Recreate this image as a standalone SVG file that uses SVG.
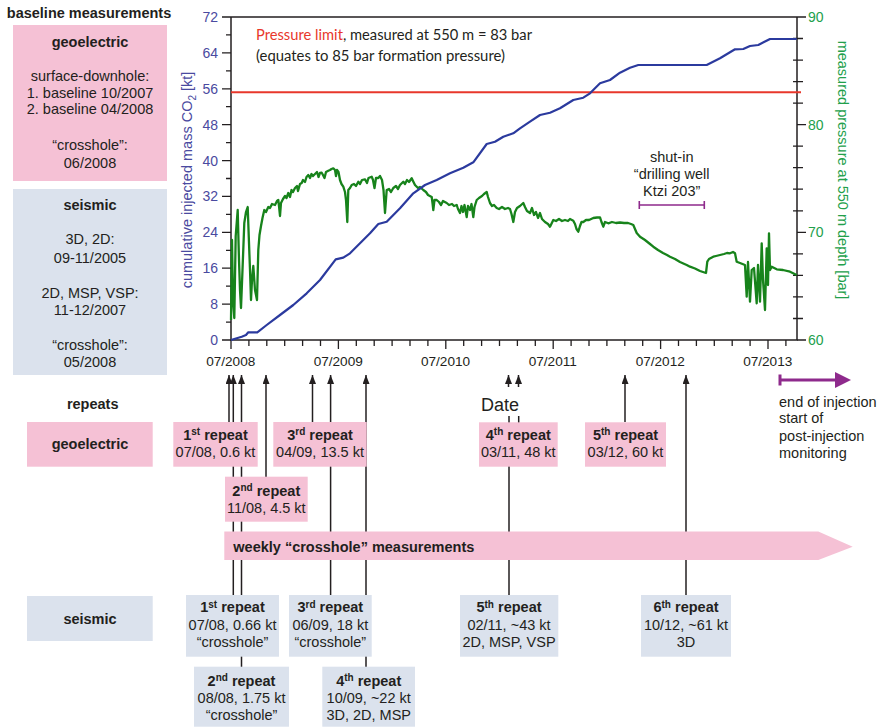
<svg xmlns="http://www.w3.org/2000/svg" width="879" height="727" viewBox="0 0 879 727">
<defs>
<style>
text{font-family:"Liberation Sans",Arial,sans-serif;fill:#231f20;}
.t{font-size:14.5px;}
.b{font-weight:bold;}
.c{text-anchor:middle;}
.pk{fill:#f5c1d5;}
.bl{fill:#dbe2ed;}
.ax{stroke:#231f20;stroke-width:1.5;fill:none;}
.tk{stroke:#231f20;stroke-width:1.3;}
.conn{stroke:#231f20;stroke-width:1.5;fill:none;}
.lt{font-size:14px;fill:#4a4aa0;text-anchor:end;}
.rt{font-size:14px;fill:#22a04b;}
.xt{font-size:13.6px;text-anchor:middle;}
.sup{font-size:10px;}
</style>
<marker id="ah" markerUnits="userSpaceOnUse" markerWidth="10" markerHeight="8" refX="9" refY="3.5" orient="auto">
<path d="M0,0 L9,3.5 L0,7 z" fill="#231f20"/>
</marker>
</defs>
<rect width="879" height="727" fill="#ffffff"/>

<!-- baseline panel -->
<text class="t b c" x="89" y="18">baseline measurements</text>
<g id="base-geoelectric">
<rect class="pk" x="13" y="25" width="154" height="156"/>
<text class="t b c" x="90" y="46.5">geoelectric</text>
<text class="t c" x="90" y="81">surface-downhole:</text>
<text class="t c" x="90" y="97.5">1. baseline 10/2007</text>
<text class="t c" x="90" y="114">2. baseline 04/2008</text>
<text class="t c" x="90" y="150">“crosshole”:</text>
<text class="t c" x="90" y="167.5">06/2008</text>
</g>
<g id="base-seismic">
<rect class="bl" x="13" y="189" width="154" height="186"/>
<text class="t b c" x="90" y="210">seismic</text>
<text class="t c" x="90" y="244">3D, 2D:</text>
<text class="t c" x="90" y="262.5">09-11/2005</text>
<text class="t c" x="90" y="298">2D, MSP, VSP:</text>
<text class="t c" x="90" y="315">11-12/2007</text>
<text class="t c" x="90" y="350">“crosshole”:</text>
<text class="t c" x="90" y="367">05/2008</text>
</g>

<!-- chart -->
<g id="chart">
<path class="ax" d="M231,17 H797 M231,17 V340 H797 V17"/>
<g class="tk">
<path d="M222,340H231M222,304.1H231M222,268.2H231M222,232.3H231M222,196.4H231M222,160.6H231M222,124.7H231M222,88.8H231M222,52.9H231M222,17H231"/>
<path d="M226,322.1H231M226,286.2H231M226,250.3H231M226,214.4H231M226,178.5H231M226,142.6H231M226,106.7H231M226,70.8H231M226,34.9H231"/>
<path d="M797,17H806M797,124.7H806M797,232.3H806M797,340H806"/>
<path d="M793,38.5H803M793,60.1H803M793,81.6H803M793,103.1H803M793,146.2H803M793,167.7H803M793,189.2H803M793,210.8H803M793,253.8H803M793,275.4H803M793,296.9H803M793,318.5H803"/>
<path d="M231,340V349M338.4,340V349M445.8,340V349M553.2,340V349M660.6,340V349M768,340V349"/>
<path d="M248.9,340V346M266.8,340V346M284.7,340V346M302.6,340V346M320.5,340V346M356.3,340V346M374.2,340V346M392.1,340V346M410,340V346M427.9,340V346M463.7,340V346M481.6,340V346M499.5,340V346M517.4,340V346M535.3,340V346M571.1,340V346M589,340V346M606.9,340V346M624.8,340V346M642.7,340V346M678.5,340V346M696.4,340V346M714.3,340V346M732.2,340V346M750.1,340V346M785.9,340V346"/>
</g>
<text class="lt" x="218" y="345">0</text>
<text class="lt" x="218" y="309">8</text>
<text class="lt" x="218" y="273">16</text>
<text class="lt" x="218" y="237">24</text>
<text class="lt" x="218" y="201">32</text>
<text class="lt" x="218" y="165.5">40</text>
<text class="lt" x="218" y="129.5">48</text>
<text class="lt" x="218" y="93.5">56</text>
<text class="lt" x="218" y="58">64</text>
<text class="lt" x="218" y="22">72</text>
<text class="rt" x="808" y="22">90</text>
<text class="rt" x="808" y="129.5">80</text>
<text class="rt" x="808" y="237">70</text>
<text class="rt" x="808" y="345">60</text>
<text class="xt" x="230.7" y="365.5">07/2008</text>
<text class="xt" x="338.2" y="365.5">07/2009</text>
<text class="xt" x="445.5" y="365.5">07/2010</text>
<text class="xt" x="552.8" y="365.5">07/2011</text>
<text class="xt" x="660.2" y="365.5">07/2012</text>
<text class="xt" x="767.7" y="365.5">07/2013</text>
<text transform="translate(192,180) rotate(-90)" style="font-size:14.5px;fill:#4a4aa0;text-anchor:middle">cumulative injected mass CO<tspan font-size="10" dy="4">2</tspan><tspan dy="-4"> [kt]</tspan></text>
<text transform="translate(838,170) rotate(90)" style="font-size:14.5px;fill:#22a04b;text-anchor:middle">measured pressure at 550 m depth [bar]</text>

<line x1="231" y1="92.3" x2="801" y2="92.3" stroke="#e8372b" stroke-width="2"/>
<text x="256" y="40" style="font-family:Lato,'Open Sans',sans-serif;font-size:14.5px" textLength="276" lengthAdjust="spacingAndGlyphs"><tspan style="fill:#e8372b">Pressure limit</tspan>, measured at 550 m = 83 bar</text>
<text x="256" y="60.5" style="font-family:Lato,'Open Sans',sans-serif;font-size:14.5px" textLength="249" lengthAdjust="spacingAndGlyphs">(equates to 85 bar formation pressure)</text>

<polyline fill="none" stroke="#17831b" stroke-width="2.3" stroke-linejoin="round" points="231,320 232,240 233,300 234.3,318 235.7,236 237.7,210 239,260 240,290 241,308 242.5,270 244.3,223 246,212 247.7,207 249,243 250,270 251,300 252,280 253.3,266 255,290 257,300 258.3,250 259.5,235 261,226 262.5,218 264.3,210 266,212 268.3,207 270,208 272,204 275,205 277,201 278.3,200 279,206 280,216 281,203 283,199 285,196 286.5,198 288.3,193 290,197 291.5,190 293,192 295,188 297,186 298,191 300,184 301.7,183 303,180 305,182 306.5,177 308.3,175 310,178 311.5,174 313,176 315,174 317,172 318.5,177 320,173 321.7,172.7 323,175 324.5,178 326,172 328.3,170.7 330,170 331.5,169 333.3,168.3 335,170 336,176 337,170 338.5,172 340,180 341.5,184 343.3,186.7 345,192 346,200 347.3,222 348.3,190 350,188 351.7,185 354,184 356,186 358.3,181.7 360,184 362,180 365,179.3 367,183 368.5,178 371.7,176.7 373,180 374.5,188 376,178 378.3,178 380,176 382,180 383.5,190 385,213 386.7,190 389,189 391,192 393.3,188 396,186 398,189 400,185 403.3,181.7 405,184 407,180 409,182 411.7,178.3 413,181 415,185 418,188 420,187 423.3,190 426,192 428,195 431.7,197 432.5,203 433.3,210 434.5,200 436.7,200 439,202 441,205 443,201 446.7,203 449,205 452,204 454,206 456.7,205 458,209 460,213 461.5,206 463,212 464.5,205 466.7,217 468,206 470,210 471.5,204 473.3,217 474.5,207 476.7,200 479,198 482,196 484,194 486.7,192 488,197 490,203 492,206 494,205 496.7,208 499,209 502,207 505,209 508,208 510,209 511.5,214 513.3,222 515,212 517,208 520,206 523.3,203 525,207 527,211 530,213 532,208 534,215 536,212 538,218 540,213 542,219 545,222 548,224 550,226.7 553.3,220 556,221 559,219 562,221 565,220 568,221 570,219 573.3,220.7 575,224 576.5,229 578.3,231.7 580,226 581.5,222 583.3,222 586,220 589,220 593.3,218 597,217.5 600,217.3 601.5,222 603.3,226.7 605,222 608.3,223.3 612,222 616,223 620,222.5 624,223 628,223 631,224 633.3,225 635,229 636.7,233 640,236.7 645,240 650,244 653.3,246.7 658,250 663,253 667,255 670,256.7 675,259 680,262 686.7,265 690,266.7 695,268.5 700,271 706,273 707.3,261.7 709,259 713.3,256.7 716,256 720,255 724,254 727,253 730,253.3 733,252 735,253.3 736.7,261.7 740,263 745,265 746.7,296.7 748,262 750,301.7 751.7,270 754,268 756.7,303.3 758,265 760,301.7 761.7,243.3 763,280 765,310 766.7,248.3 768,285 769,233.3 770,270 771.7,266.7 776.7,269.3 783,270 790,271.7 796.7,275"/>

<polyline fill="none" stroke="#2b3a9e" stroke-width="2.2" stroke-linejoin="round" points="231,340 236.7,338.3 241.7,336.7 246,335 248.3,332.3 257.3,332.3 266.7,325 280,315 293.3,305 306.7,293.3 320,280 335.7,259.3 343.3,257.7 350,253.3 360,243.3 370,233.3 378.3,224 386.7,221.7 400,208.3 413.3,193.3 425,185 436.7,180 450,173.3 463.3,167.7 473.3,162.3 486.7,144 495,141.7 503.3,136.7 513.3,133.3 520,128.3 530,121.7 540,115 550,112.7 560,108.3 573.3,100 583.3,97.7 590,93.3 600,83.3 610,80 620,72.7 630,67.7 638.3,65 706.7,65 720,58.3 735,49.3 743.3,49 750,46 758.3,45 770,39 796.7,39"/>

<text class="t c" x="671.7" y="161.5">shut-in</text>
<text class="t c" x="671.7" y="178.5">“drilling well</text>
<text class="t c" x="671.7" y="196">Ktzi 203”</text>
<path d="M639.3,205H704.3M639.3,201V209M704.3,201V209" stroke="#8e2a8c" stroke-width="1.6" fill="none"/>
</g>

<!-- post-injection -->
<g id="post-injection">
<path d="M780,380H837M780,374.5V385.5" stroke="#8e2a8c" stroke-width="3" fill="none"/>
<polygon points="835,372 851,380 835,388" fill="#8e2a8c"/>
<text class="t" x="779" y="406.5">end of injection</text>
<text class="t" x="779" y="423">start of</text>
<text class="t" x="779" y="440.5">post-injection</text>
<text class="t" x="779" y="458">monitoring</text>
</g>

<!-- connectors -->
<g id="connectors" class="conn">
<line x1="229" y1="422" x2="229" y2="375" marker-end="url(#ah)"/>
<line x1="233.3" y1="595" x2="233.3" y2="375" marker-end="url(#ah)"/>
<line x1="241.5" y1="667" x2="241.5" y2="375" marker-end="url(#ah)"/>
<line x1="266" y1="477" x2="266" y2="375" marker-end="url(#ah)"/>
<line x1="312.5" y1="422" x2="312.5" y2="375" marker-end="url(#ah)"/>
<line x1="330.6" y1="595" x2="330.6" y2="375" marker-end="url(#ah)"/>
<line x1="366" y1="667" x2="366" y2="375" marker-end="url(#ah)"/>
<line x1="508.5" y1="387" x2="508.5" y2="375" marker-end="url(#ah)"/>
<line x1="518.5" y1="387" x2="518.5" y2="375" marker-end="url(#ah)"/>
<line x1="509" y1="416" x2="509" y2="595"/>
<line x1="518.7" y1="416" x2="518.7" y2="423"/>
<line x1="625" y1="422" x2="625" y2="375" marker-end="url(#ah)"/>
<line x1="686" y1="595" x2="686" y2="375" marker-end="url(#ah)"/>
</g>
<text x="500" y="410.5" style="font-size:18px;text-anchor:middle">Date</text>

<!-- repeats -->
<text class="t b c" x="92.7" y="408.5">repeats</text>
<g id="rep-geoelectric">
<rect class="pk" x="27" y="422" width="125.7" height="44.7"/>
<text class="t b c" x="90" y="448.5">geoelectric</text>
</g>
<g id="rep-seismic">
<rect class="bl" x="27" y="596" width="125.7" height="45"/>
<text class="t b c" x="90" y="623.5">seismic</text>
</g>

<g id="geo-1">
<rect class="pk" x="173.3" y="422" width="84.4" height="44.7"/>
<text class="t b c" x="215.5" y="439.5">1<tspan class="sup" dy="-4.5">st</tspan><tspan dy="4.5"> repeat</tspan></text>
<text class="t c" x="215.5" y="457">07/08, 0.6 kt</text>
</g>
<g id="geo-2">
<rect class="pk" x="225" y="476.7" width="82.7" height="45"/>
<text class="t b c" x="266.3" y="495.5">2<tspan class="sup" dy="-4.5">nd</tspan><tspan dy="4.5"> repeat</tspan></text>
<text class="t c" x="266.3" y="513">11/08, 4.5 kt</text>
</g>
<g id="geo-3">
<rect class="pk" x="273.3" y="422" width="93.4" height="44.7"/>
<text class="t b c" x="320" y="439.5">3<tspan class="sup" dy="-4.5">rd</tspan><tspan dy="4.5"> repeat</tspan></text>
<text class="t c" x="320" y="457">04/09, 13.5 kt</text>
</g>
<g id="geo-4">
<rect class="pk" x="479" y="422.3" width="78.7" height="44.4"/>
<text class="t b c" x="518.3" y="439.5">4<tspan class="sup" dy="-4.5">th</tspan><tspan dy="4.5"> repeat</tspan></text>
<text class="t c" x="518.3" y="457">03/11, 48 kt</text>
</g>
<g id="geo-5">
<rect class="pk" x="585" y="422.3" width="81" height="44.4"/>
<text class="t b c" x="625.5" y="439.5">5<tspan class="sup" dy="-4.5">th</tspan><tspan dy="4.5"> repeat</tspan></text>
<text class="t c" x="625.5" y="457">03/12, 60 kt</text>
</g>

<g id="weekly-crosshole">
<polygon class="pk" points="224.3,531.5 818.3,531.5 852.7,546.7 818.3,560 224.3,560"/>
<text class="t b" x="233.3" y="551.5">weekly “crosshole” measurements</text>
</g>

<g id="seis-1">
<rect class="bl" x="186" y="595" width="93" height="61.7"/>
<text class="t b c" x="232.5" y="612">1<tspan class="sup" dy="-4.5">st</tspan><tspan dy="4.5"> repeat</tspan></text>
<text class="t c" x="232.5" y="629.5">07/08, 0.66 kt</text>
<text class="t c" x="232.5" y="646.5">“crosshole”</text>
</g>
<g id="seis-2">
<rect class="bl" x="194" y="666.7" width="95" height="60"/>
<text class="t b c" x="241.5" y="685.5">2<tspan class="sup" dy="-4.5">nd</tspan><tspan dy="4.5"> repeat</tspan></text>
<text class="t c" x="241.5" y="702.5">08/08, 1.75 kt</text>
<text class="t c" x="241.5" y="719.5">“crosshole”</text>
</g>
<g id="seis-3">
<rect class="bl" x="289" y="595" width="82.7" height="61.7"/>
<text class="t b c" x="330.3" y="612">3<tspan class="sup" dy="-4.5">rd</tspan><tspan dy="4.5"> repeat</tspan></text>
<text class="t c" x="330.3" y="629.5">06/09, 18 kt</text>
<text class="t c" x="330.3" y="646.5">“crosshole”</text>
</g>
<g id="seis-4">
<rect class="bl" x="322.3" y="666.7" width="92.7" height="60"/>
<text class="t b c" x="368.7" y="685.5">4<tspan class="sup" dy="-4.5">th</tspan><tspan dy="4.5"> repeat</tspan></text>
<text class="t c" x="368.7" y="702.5">10/09, ~22 kt</text>
<text class="t c" x="368.7" y="719.5">3D, 2D, MSP</text>
</g>
<g id="seis-5">
<rect class="bl" x="460" y="595" width="98.3" height="61.7"/>
<text class="t b c" x="509" y="612">5<tspan class="sup" dy="-4.5">th</tspan><tspan dy="4.5"> repeat</tspan></text>
<text class="t c" x="509" y="629.5">02/11, ~43 kt</text>
<text class="t c" x="509" y="646.5">2D, MSP, VSP</text>
</g>
<g id="seis-6">
<rect class="bl" x="641" y="595" width="90" height="61.7"/>
<text class="t b c" x="686" y="612">6<tspan class="sup" dy="-4.5">th</tspan><tspan dy="4.5"> repeat</tspan></text>
<text class="t c" x="686" y="629.5">10/12, ~61 kt</text>
<text class="t c" x="686" y="646.5">3D</text>
</g>
</svg>
